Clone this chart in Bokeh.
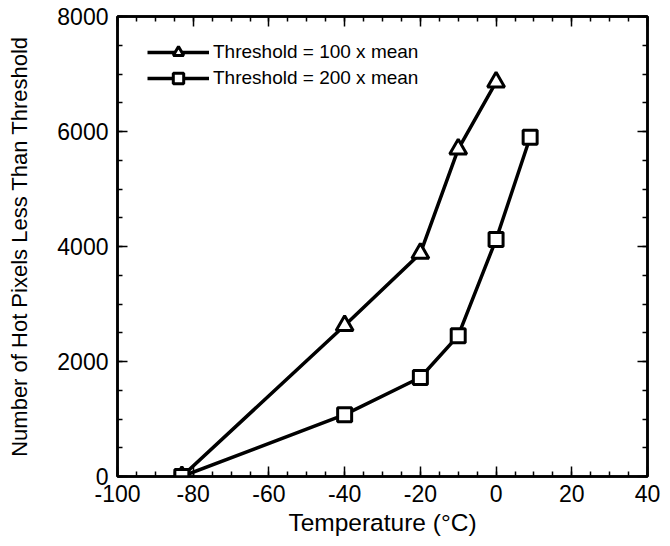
from bokeh.plotting import figure
from bokeh.models import LinearAxis, Legend, LegendItem, FixedTicker, Range1d, CustomJSTickFormatter
from bokeh.embed import file_html
from bokeh.resources import INLINE

temp_100 = [-83, -40, -20, -10, 0]
hot_100 = [0, 2625, 3880, 5694, 6860]
temp_200 = [-83, -40, -20, -10, 0, 9]
hot_200 = [0, 1076, 1722, 2450, 4122, 5900]
label_100 = "Threshold = 100 x mean"
label_200 = "Threshold = 200 x mean"
x_ticks = [-100, -80, -60, -40, -20, 0, 20, 40]
y_ticks = [0, 2000, 4000, 6000, 8000]

FONT = "Liberation Sans"

p = figure(width=662, height=538, output_backend="svg", toolbar_location=None,
           x_range=Range1d(-100, 40), y_range=Range1d(0, 8000),
           min_border_left=117, min_border_right=15, min_border_top=16, min_border_bottom=20)
p.xgrid.visible = False
p.ygrid.visible = False
p.outline_line_color = "black"
p.outline_line_width = 2.5

l1 = p.line(temp_100, hot_100, line_color="black", line_width=3.5)
s1 = p.scatter(temp_100, hot_100, marker="triangle", size=17, fill_color="white",
               line_color="black", line_width=3)
l2 = p.line(temp_200, hot_200, line_color="black", line_width=3.5)
s2 = p.scatter(temp_200, hot_200, marker="square", size=14, fill_color="white",
               line_color="black", line_width=3)

def style_axis(ax):
    ax.axis_line_color = "black"
    ax.axis_line_width = 2.5
    ax.major_tick_in = 10
    ax.major_tick_out = 0
    ax.minor_tick_in = 5
    ax.minor_tick_out = 0
    ax.major_tick_line_width = 1.5
    ax.minor_tick_line_width = 1.5
    ax.major_label_text_font = FONT
    ax.major_label_text_font_size = "23px"
    ax.major_label_text_color = "black"
    ax.axis_label_text_font = FONT
    ax.axis_label_text_font_style = "normal"
    ax.axis_label_text_color = "black"

xt = FixedTicker(ticks=x_ticks, minor_ticks=list(range(-100, 41, 5)))
yt = FixedTicker(ticks=y_ticks, minor_ticks=list(range(0, 8001, 500)))

p.xaxis.ticker = xt
p.yaxis.ticker = yt
for ax in p.xaxis:
    style_axis(ax)
    ax.major_label_overrides = {t: str(t) for t in x_ticks}
    ax.major_label_standoff = 8
    ax.axis_label = "Temperature (°C)"
    ax.axis_label_text_font_size = "24.5px"
    ax.axis_label_standoff = 4
for ax in p.yaxis:
    style_axis(ax)
    ax.major_label_overrides = {t: str(t) for t in y_ticks}
    ax.major_label_standoff = 9
    ax.axis_label = "Number of Hot Pixels Less Than Threshold"
    ax.axis_label_text_font_size = "22px"
    ax.axis_label_standoff = 22

blank = CustomJSTickFormatter(code="return ''")
top = LinearAxis(ticker=xt, formatter=blank)
style_axis(top)
top.major_label_standoff = 0
p.add_layout(top, "above")
right = LinearAxis(ticker=yt, formatter=CustomJSTickFormatter(code="return ''"))
style_axis(right)
right.major_label_standoff = 0
p.add_layout(right, "right")

legend = Legend(items=[LegendItem(label=label_100, renderers=[l1, s1]),
                       LegendItem(label=label_200, renderers=[l2, s2])],
                location=(30, 385), margin=0, padding=0, spacing=0,
                glyph_width=62, glyph_height=26, label_height=22, label_standoff=4,
                label_text_font=FONT, label_text_font_size="19px",
                label_text_color="black",
                border_line_color=None, background_fill_alpha=0)
p.add_layout(legend)

open("out.html", "w").write(file_html(p, INLINE))
